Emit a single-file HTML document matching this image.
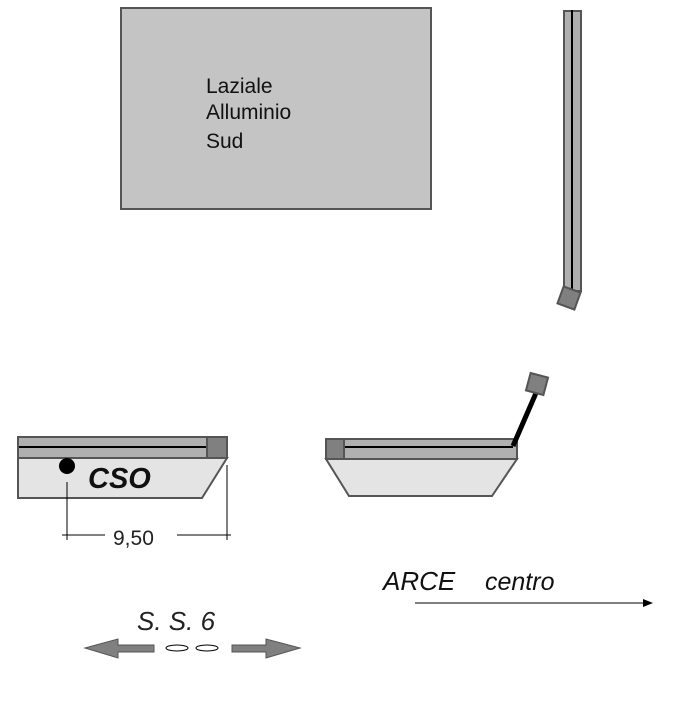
<!DOCTYPE html>
<html><head><style>body{margin:0;background:#fff}</style></head><body>
<svg width="700" height="700" xmlns="http://www.w3.org/2000/svg" font-family="Liberation Sans, sans-serif">
<rect x="121" y="8" width="310" height="201" fill="#c4c4c4" stroke="#555" stroke-width="2"/>
<text x="206" y="93" font-size="21" fill="#111">Laziale</text>
<text x="206" y="119" font-size="21" fill="#111">Alluminio</text>
<text x="206" y="148" font-size="21" fill="#111">Sud</text>
<!-- vertical -->
<rect x="564" y="11" width="17" height="280" fill="#b0b0b0" stroke="#555" stroke-width="2"/>
<line x1="572" y1="10" x2="572" y2="290" stroke="#000" stroke-width="2"/>
<rect x="560" y="289" width="18" height="18" fill="#808080" stroke="#555" stroke-width="2" transform="rotate(20 569 298)"/>
<!-- left block -->
<polygon points="18,458 227,458 202,498 18,498" fill="#e4e4e4" stroke="#555" stroke-width="2"/>
<rect x="18" y="437" width="209" height="21" fill="#b0b0b0" stroke="#555" stroke-width="2"/>
<line x1="19" y1="447" x2="207" y2="447" stroke="#000" stroke-width="2"/>
<rect x="207" y="437" width="20" height="21" fill="#808080" stroke="#555" stroke-width="2"/>
<circle cx="67" cy="466" r="8" fill="#000"/>
<text x="88" y="488" font-size="29" font-weight="bold" font-style="italic" fill="#111">CSO</text>
<g stroke="#000" stroke-width="1">
<line x1="67" y1="482" x2="67" y2="540"/><line x1="227" y1="465" x2="227" y2="540"/>
<line x1="62" y1="535" x2="105" y2="535"/><line x1="177" y1="535" x2="231" y2="535"/>
</g>
<text x="113" y="545" font-size="21" fill="#222">9,50</text>
<!-- right block -->
<polygon points="326,459 517,459 492,496 349,496" fill="#e4e4e4" stroke="#555" stroke-width="2"/>
<rect x="326" y="439" width="191" height="20" fill="#b0b0b0" stroke="#555" stroke-width="2"/>
<line x1="344" y1="447" x2="513" y2="447" stroke="#000" stroke-width="2"/>
<rect x="326" y="439" width="18" height="20" fill="#808080" stroke="#555" stroke-width="2"/>
<line x1="513" y1="446" x2="536" y2="393" stroke="#000" stroke-width="5"/>
<rect x="528" y="375" width="18" height="18" fill="#808080" stroke="#555" stroke-width="2" transform="rotate(15 537 384)"/>
<!-- ARCE -->
<text x="383" y="590" font-size="26" font-style="italic" fill="#111">ARCE</text>
<text x="485" y="590" font-size="25" font-style="italic" fill="#111">centro</text>
<line x1="415" y1="603" x2="645" y2="603" stroke="#000" stroke-width="1"/>
<polygon points="653,603 643,599 643,607" fill="#000"/>
<!-- S.S.6 -->
<text x="137" y="630" font-size="26" font-style="italic" fill="#222">S. S. 6</text>
<polygon points="85,648 118,639 118,645 154,645 154,652 118,652 118,658" fill="#808080" stroke="#555" stroke-width="1"/>
<polygon points="300,648 266,639 266,645 232,645 232,652 266,652 266,658" fill="#808080" stroke="#555" stroke-width="1"/>
<ellipse cx="177" cy="648" rx="11" ry="3" fill="#fff" stroke="#000" stroke-width="1"/>
<ellipse cx="207" cy="648" rx="11" ry="3" fill="#fff" stroke="#000" stroke-width="1"/>
</svg>
</body></html>
